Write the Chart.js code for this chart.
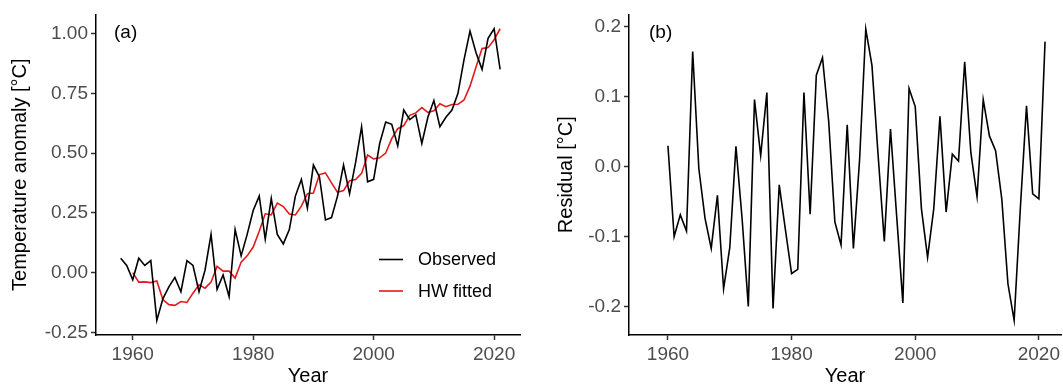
<!DOCTYPE html>
<html lang="en">
<head>
  <meta charset="UTF-8">
  <title>Temperature anomaly and HW residuals</title>
  <script src="https://cdn.jsdelivr.net/npm/chart.js"></script>
  <style>
body {
  margin: 0;
  background: #ffffff;
}

/* two panels side by side */
.wrap {
  position: relative;
  width: 1063px;
  height: 389px;
  overflow: hidden;
}

#tempChart {
  position: absolute;
  left: 0;
  top: 0;
}

#residChart {
  position: absolute;
  left: 535px;
  top: 0;
}
  </style>
</head>
<body>
  <div class="wrap">
    <canvas id="tempChart" width="530" height="389"></canvas>
    <canvas id="residChart" width="528" height="389"></canvas>
  </div>

  <script>
    const years = [1958, 1959, 1960, 1961, 1962, 1963, 1964, 1965, 1966, 1967,
      1968, 1969, 1970, 1971, 1972, 1973, 1974, 1975, 1976, 1977,
      1978, 1979, 1980, 1981, 1982, 1983, 1984, 1985, 1986, 1987,
      1988, 1989, 1990, 1991, 1992, 1993, 1994, 1995, 1996, 1997,
      1998, 1999, 2000, 2001, 2002, 2003, 2004, 2005, 2006, 2007,
      2008, 2009, 2010, 2011, 2012, 2013, 2014, 2015, 2016, 2017,
      2018, 2019, 2020, 2021];

    const observed = [0.06, 0.03, -0.03, 0.06, 0.03, 0.05, -0.20, -0.11, -0.06, -0.02,
      -0.08, 0.05, 0.03, -0.08, 0.01, 0.16, -0.07, -0.01, -0.10, 0.18,
      0.07, 0.16, 0.26, 0.32, 0.14, 0.31, 0.16, 0.12, 0.18, 0.32,
      0.39, 0.27, 0.45, 0.40, 0.22, 0.23, 0.32, 0.45, 0.33, 0.46,
      0.61, 0.38, 0.39, 0.54, 0.63, 0.62, 0.53, 0.68, 0.64, 0.66,
      0.54, 0.65, 0.72, 0.61, 0.65, 0.68, 0.75, 0.89, 1.01, 0.92,
      0.85, 0.98, 1.02, 0.85];

    // Holt-Winters fit and its residuals start in 1960
    const fitYears = years.slice(2);

    const hwFitted = [0.000, -0.040, -0.039, -0.042, -0.035, -0.113, -0.134, -0.137, -0.121, -0.125,
      -0.086, -0.051, -0.065, -0.040, 0.026, 0.006, 0.006, -0.023, 0.044, 0.070,
      0.107, 0.173, 0.246, 0.242, 0.291, 0.276, 0.245, 0.241, 0.278, 0.330,
      0.333, 0.410, 0.417, 0.375, 0.336, 0.343, 0.384, 0.389, 0.415, 0.492,
      0.476, 0.480, 0.500, 0.560, 0.602, 0.615, 0.658, 0.668, 0.690, 0.670,
      0.677, 0.706, 0.694, 0.703, 0.704, 0.722, 0.780, 0.860, 0.937, 0.941,
      0.974, 1.020];

    const residual = [0.030, -0.100, -0.069, -0.092, 0.165, -0.003, -0.074, -0.117, -0.041, -0.175,
      -0.116, 0.029, -0.075, -0.200, 0.096, 0.016, 0.106, -0.203, -0.026, -0.090,
      -0.153, -0.147, 0.106, -0.068, 0.131, 0.156, 0.065, -0.079, -0.112, 0.060,
      -0.117, 0.010, 0.197, 0.145, 0.016, -0.107, 0.054, -0.071, -0.195, 0.112,
      0.086, -0.060, -0.130, -0.060, 0.072, -0.065, 0.018, 0.008, 0.150, 0.020,
      -0.043, 0.096, 0.044, 0.023, -0.046, -0.168, -0.220, -0.060, 0.087, -0.039,
      -0.046, 0.179];

    const yearTicks = [1960, 1980, 2000, 2020];
    const tempTicks = [-0.25, 0, 0.25, 0.5, 0.75, 1];
    const residTicks = [-0.2, -0.1, 0, 0.1, 0.2];

    Chart.defaults.font.family = "'Liberation Sans', Arial, sans-serif";
    Chart.defaults.font.size = 19;
    Chart.defaults.animation = false;

    const TICK_FONT = { size: 19 };
    const TITLE_FONT = { size: 20 };

    function points(xs, ys) {
      return xs.map((x, i) => ({ x: x, y: ys[i] }));
    }

    // ggplot-like classic axis: black line, short outward ticks, grey labels
    function axis(opts) {
      return {
        type: 'linear',
        position: opts.position,
        min: opts.min,
        max: opts.max,
        border: { display: true, color: '#000000', width: 1.5 },
        grid: {
          display: true,
          drawOnChartArea: false,
          drawTicks: true,
          tickLength: 5,
          tickWidth: 1.5,
          tickColor: '#333333'
        },
        ticks: {
          color: '#4d4d4d',
          font: TICK_FONT,
          padding: 3,
          maxRotation: 0,
          autoSkip: false,
          callback: opts.format
        },
        title: {
          display: true,
          text: opts.title,
          color: '#000000',
          font: TITLE_FONT,
          padding: opts.titlePadding
        },
        afterBuildTicks: scale => { scale.ticks = opts.ticks.map(v => ({ value: v })); },
        afterFit: scale => {
          if (opts.position === 'left') scale.width = opts.size;
          else scale.height = opts.size;
        }
      };
    }

    // panel tag "(a)" / "(b)" and the small legend inside panel a
    const annotations = {
      id: 'annotations',
      afterDraw(chart, args, opts) {
        const ctx = chart.ctx;
        ctx.save();
        ctx.fillStyle = '#000000';
        ctx.textBaseline = 'middle';
        ctx.textAlign = 'left';
        ctx.font = "19px 'Liberation Sans', Arial, sans-serif";
        ctx.fillText(opts.tag, chart.chartArea.left + opts.tagDx, 33);
        ctx.font = "18px 'Liberation Sans', Arial, sans-serif";
        (opts.legend || []).forEach(item => {
          ctx.strokeStyle = item.color;
          ctx.lineWidth = 1.6;
          ctx.beginPath();
          ctx.moveTo(379, item.y);
          ctx.lineTo(403, item.y);
          ctx.stroke();
          ctx.fillText(item.label, 418, item.y + 1);
        });
        ctx.restore();
      }
    };

    const lineStyle = {
      pointRadius: 0,
      borderWidth: 1.6,
      tension: 0,
      fill: false
    };

    new Chart(document.getElementById('tempChart').getContext('2d'), {
      type: 'line',
      data: {
        datasets: [
          Object.assign({ label: 'Observed', data: points(years, observed), borderColor: '#000000' }, lineStyle),
          Object.assign({ label: 'HW fitted', data: points(fitYears, hwFitted), borderColor: '#e3191b' }, lineStyle)
        ]
      },
      options: {
        responsive: false,
        layout: { padding: { top: 10, right: 10, left: 0, bottom: 0 } },
        plugins: {
          legend: { display: false },
          tooltip: { enabled: false },
          annotations: {
            tag: '(a)',
            tagDx: 18,
            legend: [
              { label: 'Observed', color: '#000000', y: 259.5 },
              { label: 'HW fitted', color: '#e3191b', y: 291 }
            ]
          }
        },
        scales: {
          x: axis({
            position: 'bottom', min: 1953.9, max: 2024.3, ticks: yearTicks,
            format: v => String(v), title: 'Year', size: 54,
            titlePadding: { top: 0, bottom: 1 }
          }),
          y: axis({
            position: 'left', min: -0.261, max: 1.080, ticks: tempTicks,
            format: v => v.toFixed(2), title: 'Temperature anomaly [°C]', size: 96,
            titlePadding: { top: 8, bottom: 0 }
          })
        }
      },
      plugins: [annotations]
    });

    new Chart(document.getElementById('residChart').getContext('2d'), {
      type: 'line',
      data: {
        datasets: [
          Object.assign({ label: 'Residual', data: points(fitYears, residual), borderColor: '#000000' }, lineStyle)
        ]
      },
      options: {
        responsive: false,
        layout: { padding: { top: 10, right: 0, left: 0, bottom: 0 } },
        plugins: {
          legend: { display: false },
          tooltip: { enabled: false },
          annotations: { tag: '(b)', tagDx: 20 }
        },
        scales: {
          x: axis({
            position: 'bottom', min: 1953.7, max: 2023.6, ticks: yearTicks,
            format: v => String(v), title: 'Year', size: 54,
            titlePadding: { top: 0, bottom: 1 }
          }),
          y: axis({
            position: 'left', min: -0.241, max: 0.218, ticks: residTicks,
            format: v => v.toFixed(1), title: 'Residual [°C]', size: 94,
            titlePadding: { top: 19, bottom: 0 }
          })
        }
      },
      plugins: [annotations]
    });
  </script>
</body>
</html>
